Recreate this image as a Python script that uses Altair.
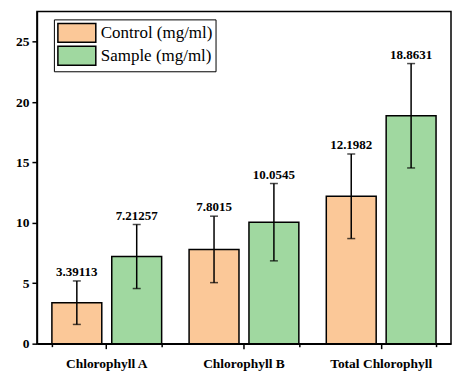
import altair as alt
import pandas as pd

categories = ["Chlorophyll A", "Chlorophyll B", "Total Chlorophyll"]
series = ["Control (mg/ml)", "Sample (mg/ml)"]
control_values = [3.39113, 7.8015, 12.1982]
sample_values = [7.21257, 10.0545, 18.8631]
control_errors = [1.8, 2.75, 3.5]
sample_errors = [2.65, 3.2, 4.32]
control_labels = ["3.39113", "7.8015", "12.1982"]
sample_labels = ["7.21257", "10.0545", "18.8631"]
colors = ["#FBC898", "#A0D8A0"]

rows = []
for i, c in enumerate(categories):
    for s, v, e, l in [(series[0], control_values[i], control_errors[i], control_labels[i]),
                       (series[1], sample_values[i], sample_errors[i], sample_labels[i])]:
        rows.append({"category": c, "series": s, "value": v, "lo": v - e, "hi": v + e, "label": l})
df = pd.DataFrame(rows)

FONT = "Liberation Serif, Times New Roman, serif"

x_scale = alt.Scale(domain=categories, paddingInner=0.2, paddingOuter=0.109)
xo = alt.XOffset("series:N", sort=series, scale=alt.Scale(domain=series, paddingInner=0.1667, paddingOuter=0))
y_scale = alt.Scale(domain=[0, 27.5], nice=False, zero=True)

x_main = alt.X("category:N", sort=categories, scale=x_scale, title=None,
               axis=alt.Axis(orient="bottom", labelAngle=0, labelFont=FONT, labelFontWeight="bold",
                             labelFontSize=13.5, labelColor="black", labelPadding=8,
                             tickColor="black", tickSize=5, tickWidth=1.5,
                             domainColor="black", domainWidth=1.5, grid=False))
x_none = alt.X("category:N", sort=categories, scale=x_scale, axis=None)
y_main = alt.Y("value:Q", scale=y_scale, title=None,
               axis=alt.Axis(values=[0, 2.5, 5, 7.5, 10, 12.5, 15, 17.5, 20, 22.5, 25],
                             labelExpr="datum.value % 5 == 0 ? datum.label : ''",
                             tickSize={"condition": {"test": "datum.value % 5 != 0", "value": 3}, "value": 5},
                             labelFont=FONT, labelFontWeight="bold", labelFontSize=13.5, labelColor="black",
                             labelPadding=3, tickColor="black", tickWidth=1.5,
                             domainColor="black", domainWidth=1.5, grid=False))

bars = alt.Chart(df).mark_bar(stroke="black", strokeWidth=1.5).encode(
    x=x_main,
    xOffset=xo,
    y=y_main,
    color=alt.Color("series:N", sort=series, scale=alt.Scale(domain=series, range=colors),
                    legend=alt.Legend(title=None, orient="none", legendX=17, legendY=8,
                                      labelFont=FONT, labelFontSize=17, labelColor="black",
                                      symbolType="M-1,-1H3V1H-1Z", symbolSize=361,
                                      symbolStrokeColor="black", symbolStrokeWidth=1.5,
                                      symbolOpacity=1,
                                      rowPadding=-5.5, labelOffset=23, padding=3,
                                      strokeColor="black", fillColor="white")),
)

minor_x = alt.Chart(df).mark_bar(opacity=0).encode(
    x=alt.X("category:N", sort=categories, scale=x_scale, title=None,
            axis=alt.Axis(orient="bottom", tickBand="extent", labels=False, tickSize=3,
                          tickColor="black", tickWidth=1.5, domain=False, grid=False)),
)

rules = alt.Chart(df).mark_rule(color="black", strokeWidth=1.5).encode(
    x=x_none,
    xOffset=xo,
    y=alt.Y("lo:Q", scale=y_scale),
    y2="hi:Q",
)
caps_hi = alt.Chart(df).mark_tick(color="black", thickness=1.5, size=8).encode(
    x=x_none,
    xOffset=xo,
    y=alt.Y("hi:Q", scale=y_scale),
)
caps_lo = alt.Chart(df).mark_tick(color="black", thickness=1.5, size=8).encode(
    x=x_none,
    xOffset=xo,
    y=alt.Y("lo:Q", scale=y_scale),
)
texts = alt.Chart(df).mark_text(font=FONT, fontWeight="bold", fontSize=13, color="black",
                                baseline="alphabetic", dy=-5).encode(
    x=x_none,
    xOffset=xo,
    y=alt.Y("hi:Q", scale=y_scale),
    text="label:N",
)

chart = alt.layer(bars, minor_x, rules, caps_hi, caps_lo, texts).resolve_axis(x="independent").properties(
    width=415, height=333,
    autosize=alt.AutoSizeParams(type="none"),
    padding={"left": 29, "top": 3, "right": 2, "bottom": 30},
).configure(background="white").configure_view(stroke="black", strokeWidth=1.5)

chart.save("out.html", embed_options={"renderer": "svg", "actions": False})
